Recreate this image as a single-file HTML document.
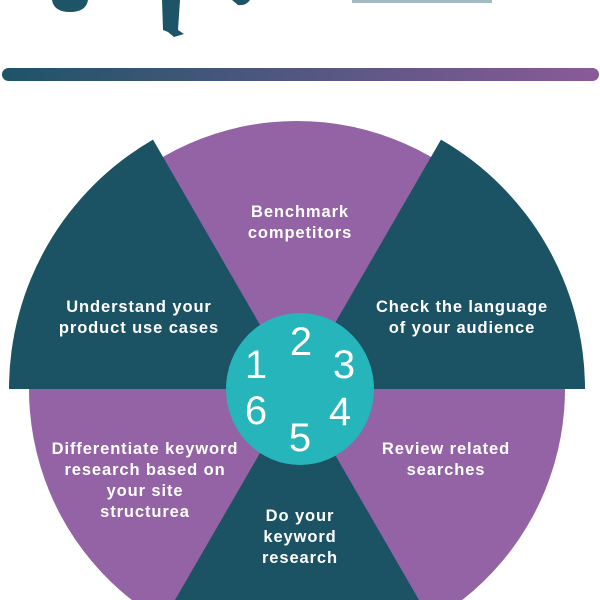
<!DOCTYPE html>
<html><head><style>
html,body{margin:0;padding:0;background:#fff;overflow:hidden;width:600px;height:600px;}
svg{display:block}
text{font-family:"Liberation Sans",sans-serif;fill:#fff;}
.t{font-size:16.5px;font-weight:bold;text-anchor:middle;letter-spacing:0.9px;}
.n{font-size:40px;text-anchor:middle;}
</style></head><body>
<svg width="600" height="600" viewBox="0 0 600 600">
<defs><linearGradient id="g" x1="0" x2="1"><stop offset="0" stop-color="#1d5468"/><stop offset="1" stop-color="#8a5a98"/></linearGradient></defs>
<path d="M52 0 L88 0 Q86 12 70 12 Q54 12 52 0Z" fill="#1d5468"/>
<path d="M162 0 L180 0 L178 30 L184 34 L174 37 L168 32 L163 30Z" fill="#1d5468"/>
<path d="M232 0 L250 0 Q246 6 238 5Z" fill="#1d5468"/>
<rect x="352" y="0" width="140" height="3" fill="#1d5468" opacity="0.4"/>
<rect x="2" y="68" width="597" height="13" rx="6.5" fill="url(#g)"/>
<path d="M131.8 600 A268 268 0 1 1 462.2 600 Z" fill="#9463a5"/>
<g fill="#1b5264">
<path d="M297 389 L9 389 A288 288 0 0 1 153 139.6 Z"/>
<path d="M297 389 L441 139.6 A288 288 0 0 1 585 389 Z"/>
<path d="M297 389 L419 600 L175 600 Z"/>
</g>
<ellipse cx="300" cy="389" rx="74" ry="76" fill="#25b5ba"/>
<text class="n" x="256" y="378">1</text>
<text class="n" x="301" y="355">2</text>
<text class="n" x="344" y="378">3</text>
<text class="n" x="340" y="425">4</text>
<text class="n" x="300" y="451">5</text>
<text class="n" x="256" y="424">6</text>
<text class="t" x="300" y="217">Benchmark</text>
<text class="t" x="300" y="238">competitors</text>
<text class="t" x="139" y="312">Understand your</text>
<text class="t" x="139" y="333">product use cases</text>
<text class="t" x="462" y="312">Check the language</text>
<text class="t" x="462" y="333">of your audience</text>
<text class="t" x="145" y="454">Differentiate keyword</text>
<text class="t" x="145" y="475">research based on</text>
<text class="t" x="145" y="496">your site</text>
<text class="t" x="145" y="517">structurea</text>
<text class="t" x="446" y="454">Review related</text>
<text class="t" x="446" y="475">searches</text>
<text class="t" x="300" y="521">Do your</text>
<text class="t" x="300" y="542">keyword</text>
<text class="t" x="300" y="563">research</text>
</svg>
</body></html>
